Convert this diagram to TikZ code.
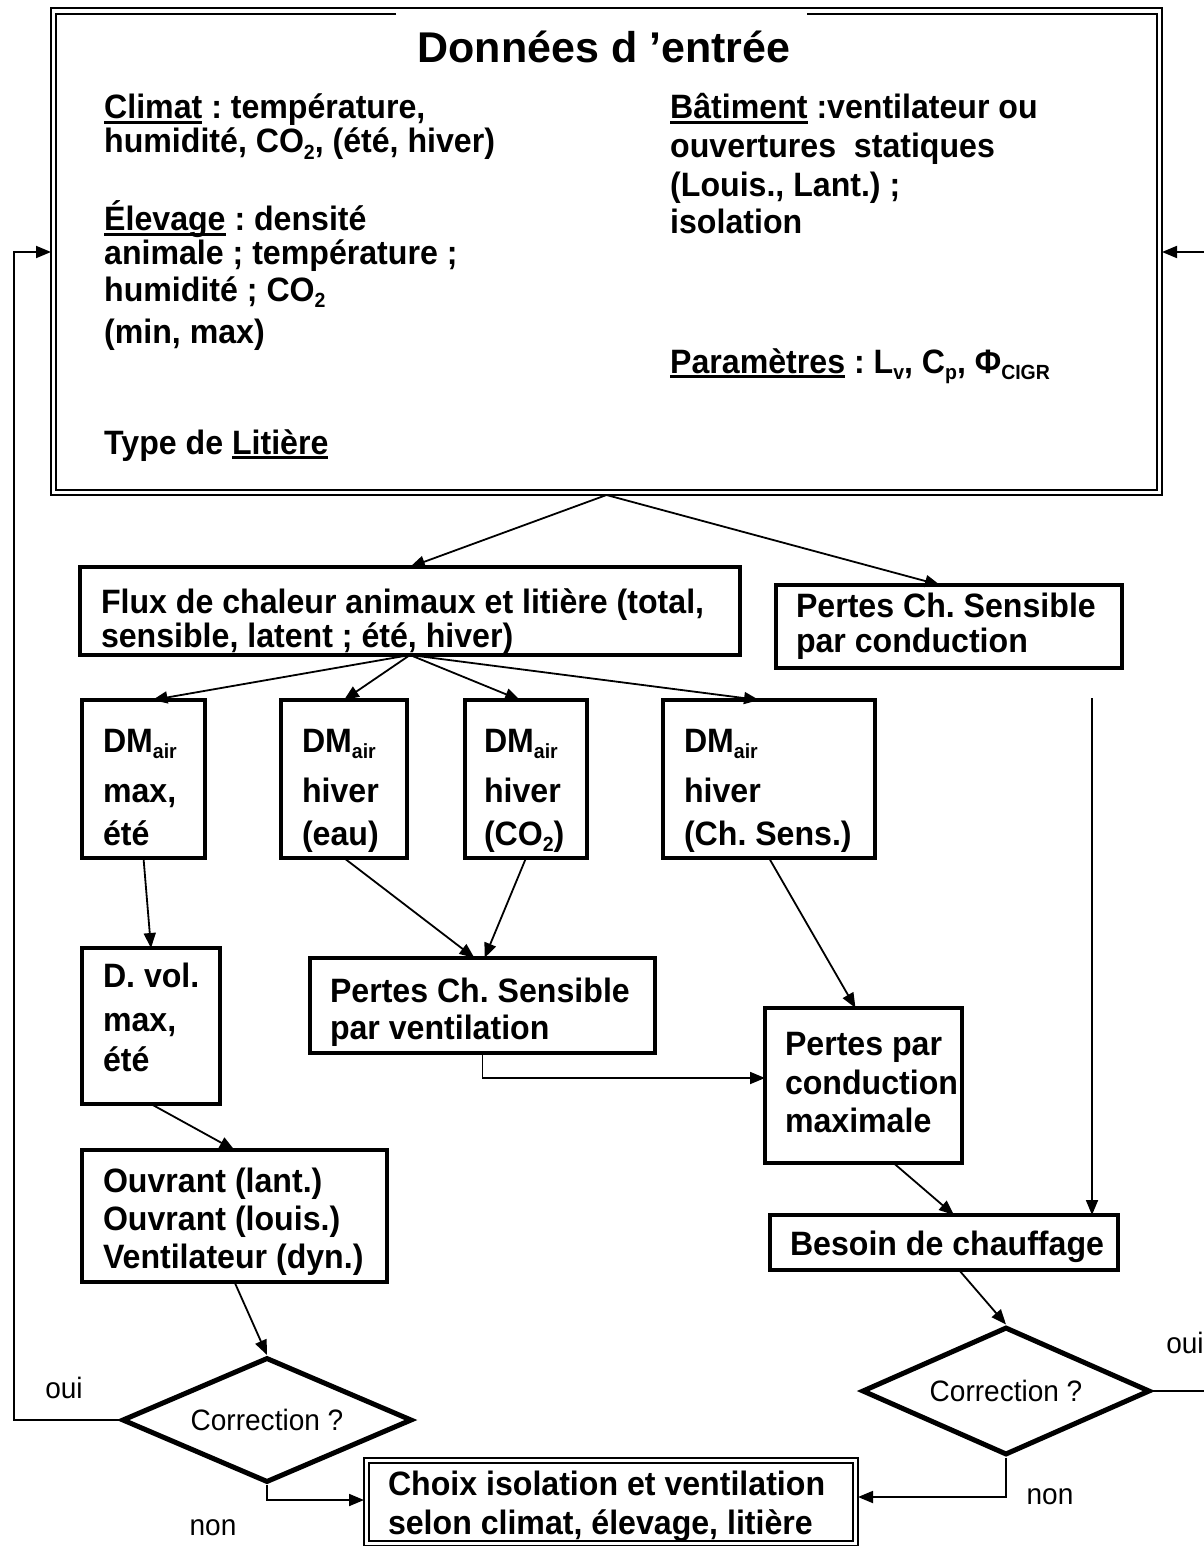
\documentclass[tikz,border=0pt]{standalone}
\usepackage{fontspec}
\setmainfont{Liberation Sans}[FakeStretch=0.95]
\newfontfamily\ttlfont{Liberation Sans}
\usetikzlibrary{shapes.geometric,arrows.meta,calc}
\hyphenpenalty=10000
\exhyphenpenalty=10000
\frenchspacing
\newsavebox\ulbox
\newcommand\ulx[1]{\sbox\ulbox{#1}\rlap{\rule[-5pt]{\wd\ulbox}{2.6pt}}\usebox\ulbox}
\newcommand\sbs[1]{\raisebox{-6.5pt}{\fontsize{20.5}{20.5}\selectfont #1}}
\newcommand\sth[1]{\rule{0pt}{#1pt}}
\newcommand\std[1]{\rule[-#1pt]{0pt}{#1pt}}
\begin{document}
\begin{tikzpicture}[x=1pt,y=-1pt,
  lsp/.style={font=\bfseries\fontsize{33.8}{#1}\selectfont},
  bx/.style={draw, line width=4.5pt, outer sep=0pt, anchor=north west, align=flush left,
    inner ysep=0pt, inner xsep=21pt, lsp=36},
  chx/.style={bx, line width=1.2pt},
  conn/.style={line width=1.8pt, -{Triangle[length=15pt,width=12pt]}},
  dia/.style={diamond, aspect=2.3, draw, line width=5pt, inner sep=0pt, font=\fontsize{29.5}{30}\selectfont},
  lbl/.style={inner sep=0pt, font=\fontsize{29.5}{30}\selectfont},
  tx/.style={anchor=base west, inner sep=0pt, lsp=36}
]
\path[use as bounding box, fill=white] (0,0) rectangle (1203,1546);

% top input box
\node[draw, line width=1.2pt, outer sep=0pt, anchor=north west, minimum width=1111pt,
  minimum height=487pt, inner sep=0pt] (top) at (51,8) {};
\draw[line width=2.8pt] (396,14) -| (56,490) -| (1157,14) -- (807,14);

\node[anchor=base, inner sep=0pt, font=\ttlfont\bfseries\fontsize{43}{48}\selectfont] (ttl) at (604,63) {Données d ’entrée};
\node[tx] (c1) at (104,119) {\ulx{Climat} : température,};
\node[tx] (c2) at (104,153) {humidité, CO\sbs{2}, (été, hiver)};
\node[tx] (e1) at (104,231) {\ulx{Élevage} : densité};
\node[tx] (e2) at (104,265) {animale ; température ;};
\node[tx] (e3) at (104,301) {humidité ; CO\sbs{2}};
\node[tx] (e4) at (104,343) {(min, max)};
\node[tx] (l1) at (104,454) {Type de \ulx{Litière}};
\node[tx] (b1) at (670,119) {\ulx{Bâtiment} :ventilateur ou};
\node[tx] (b2) at (670,158) {ouvertures~~statiques};
\node[tx] (b3) at (670,197) {(Louis., Lant.) ;};
\node[tx] (b4) at (670,234) {isolation};
\node[tx] (p1) at (670,373) {\ulx{Paramètres} : L\sbs{v}, C\sbs{p}, Φ\sbs{CIGR}};

% boxes
\node[bx, lsp=34, minimum width=660pt, minimum height=88pt, text width=618pt] (flux) at (80,567)
  {\sth{46}\mbox{Flux de chaleur animaux et litière (total,}\\\mbox{sensible, latent ; été, hiver)}\std{8}};
\node[bx, lsp=35, minimum width=346pt, minimum height=83pt, inner xsep=20pt, text width=306pt] (pcond) at (776,585)
  {\sth{32}\mbox{Pertes Ch. Sensible}\\\mbox{par conduction}\std{16}};
\node[bx, lsp=43, minimum width=123pt, minimum height=158pt, text width=81pt] (dm1) at (82,700)
  {\sth{52}DM\sbs{air}\\[7pt]max,\\été\std{13}};
\node[bx, lsp=43, minimum width=126pt, minimum height=158pt, text width=84pt] (dm2) at (281,700)
  {\sth{52}DM\sbs{air}\\[7pt]hiver\\(eau)\std{13}};
\node[bx, lsp=43, minimum width=122pt, minimum height=158pt, inner xsep=19pt, text width=84pt] (dm3) at (465,700)
  {\sth{52}DM\sbs{air}\\[7pt]hiver\\(CO\sbs{2})\std{13}};
\node[bx, lsp=43, minimum width=212pt, minimum height=158pt, text width=170pt] (dm4) at (663,700)
  {\sth{52}DM\sbs{air}\\[7pt]hiver\\\mbox{(Ch. Sens.)}\std{13}};
\node[bx, lsp=40, minimum width=138pt, minimum height=156pt, text width=96pt] (dvol) at (82,948)
  {\sth{39}\mbox{D. vol.}\\[4pt]max,\\été\std{33}};
\node[bx, lsp=37, minimum width=345pt, minimum height=95pt, inner xsep=20pt, text width=305pt] (pv) at (310,958)
  {\sth{44}\mbox{Pertes Ch. Sensible}\\\mbox{par ventilation}\std{14}};
\node[bx, lsp=38, minimum width=197pt, minimum height=155pt, inner xsep=20pt, text width=157pt] (pm) at (765,1008)
  {\sth{47}\mbox{Pertes par}\\[1pt]conduction\\maximale\std{31}};
\node[bx, lsp=38, minimum width=305pt, minimum height=132pt, text width=263pt] (ouv) at (82,1150)
  {\sth{42}\mbox{Ouvrant (lant.)}\\\mbox{Ouvrant (louis.)}\\\mbox{Ventilateur (dyn.)}\std{14}};
\node[bx, minimum width=348pt, minimum height=55pt, inner xsep=20pt, text width=308pt] (bes) at (770,1215)
  {\sth{40}\mbox{Besoin de chauffage}\std{15}};
\node[chx, lsp=39, minimum width=494pt, minimum height=88pt, inner xsep=24pt, text width=446pt] (choix) at (364,1458)
  {\sth{37}\mbox{Choix isolation et ventilation}\\\mbox{selon climat, élevage, litière}\std{12}};
\draw[line width=2.8pt] (369,1463) rectangle (853,1541);

% decisions
\node[dia, minimum width=290pt, minimum height=125pt] (d1) at (267,1420) {Correction ?};
\node[dia, minimum width=288pt, minimum height=128pt] (d2) at (1006,1391) {Correction ?};

\node[lbl] (oui1) at (64,1388) {oui};
\node[lbl] (non1) at (213,1528) {non};
\node[lbl] (oui2) at (1185,1343) {oui};
\node[lbl] (non2) at (1050,1497) {non};

% connectors
\draw[conn] (top.south) -- (flux.north);
\draw[conn] (top.south) -- ([xshift=-9pt]pcond.north);
\draw[conn] (flux.south) -- ([xshift=9pt]dm1.north);
\draw[conn] (flux.south) -- (dm2.north);
\draw[conn] (flux.south) -- ([xshift=-6pt]dm3.north);
\draw[conn] (flux.south) -- ([xshift=-10pt]dm4.north);
\draw[conn] (dm1.south) -- (dvol.north);
\draw[conn] (dm2.south) -- ([xshift=-8pt]pv.north);
\draw[conn] (dm3.south) -- ([xshift=2pt]pv.north);
\draw[conn] (dm4.south) -- ([xshift=-8pt]pm.north);
\coordinate (pvturn) at (0,1078);
\draw[conn] (pv.south) |- (pm.west |- pvturn);
\coordinate (rvtop) at (1092,698);
\draw[conn] (rvtop) -- (rvtop |- bes.north);
\draw[conn] ([xshift=30pt]pm.south) -- ([xshift=10pt]bes.north);
\draw[conn] ([xshift=15pt]bes.south) -- (d2.north);
\draw[conn] (dvol.south) -- (ouv.north);
\draw[conn] (ouv.south) -- (d1.north);
\coordinate (lfb) at (14,252);
\draw[conn] (d1.west) -| (lfb) -- (lfb -| top.west);
\coordinate (rfb) at (1206,252);
\draw[conn] (d2.east) -| (rfb) -- (rfb -| top.east);
\coordinate (d1n) at (0,1500);
\draw[conn] (d1.south) |- (choix.west |- d1n);
\coordinate (d2n) at (0,1497);
\draw[conn] (d2.south) |- (choix.east |- d2n);
\end{tikzpicture}
\end{document}
